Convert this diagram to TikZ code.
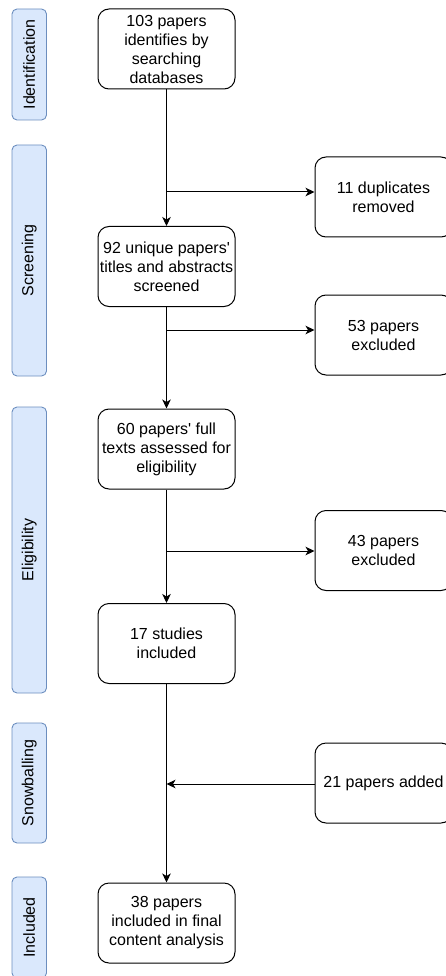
\documentclass[tikz,border=0pt]{standalone}
\usepackage{fontspec}
\setmainfont{Liberation Sans}
\usetikzlibrary{arrows.meta}
\definecolor{phasefill}{HTML}{DAE8FC}
\definecolor{phaseline}{HTML}{6C8EBF}
\tikzset{
  phase/.style={draw=phaseline, fill=phasefill, line width=0.9pt,
    rounded corners=5pt, rotate=90, minimum height=34.5pt, inner sep=0pt,
    font=\fontsize{16}{19}\selectfont},
  stepbox/.style={draw=black, line width=1pt, rounded corners=11pt,
    minimum width=137pt, minimum height=80pt, inner sep=0pt, align=center,
    font=\fontsize{16}{19}\selectfont},
  flow/.style={line width=1pt, draw=black},
  flowarrow/.style={flow, -{Stealth[length=9pt,width=8.5pt,inset=2.5pt]}}
}
\begin{document}
\begin{tikzpicture}[x=1pt, y=-1pt]
\useasboundingbox (0,0) rectangle (445,976);

% phase labels on the left
\node[phase, minimum width=111pt] (pid)  at (29.25,64.5)  {Identification};
\node[phase, minimum width=231pt] (pscr) at (29.25,260.5) {Screening};
\node[phase, minimum width=286pt] (pel)  at (29.25,550)   {Eligibility};
\node[phase, minimum width=120pt] (psn)  at (29.25,783)   {Snowballing};
\node[phase, minimum width=101pt] (pinc) at (29.25,927.5) {Included};

% main flow
\node[stepbox] (ident) at (166.5,49)    {103 papers\\identifies by\\searching\\databases};
\node[stepbox] (scr)   at (166.5,266.5) {92 unique papers\textquotesingle\\titles and abstracts\\screened};
\node[stepbox] (full)  at (166.5,449)   {60 papers\textquotesingle{} full\\texts assessed for\\eligibility};
\node[stepbox] (stud)  at (166.5,643.5) {17 studies\\included};
\node[stepbox] (final) at (166.5,923)    {38 papers\\included in final\\content analysis};

% side boxes
\node[stepbox] (dup)   at (383.5,197)   {11 duplicates\\removed};
\node[stepbox] (exc1)  at (383.5,335)   {53 papers\\excluded};
\node[stepbox] (exc2)  at (383.5,550.5) {43 papers\\excluded};
\node[stepbox] (added) at (383.5,783)   {21 papers added};

% branch points on the main line
\coordinate (b1) at (166.5,192);
\coordinate (b2) at (166.5,330);
\coordinate (b3) at (166.5,551);
\coordinate (b4) at (166.5,784);

% connectors
\draw[flowarrow] (ident.south) -- (scr.north);
\draw[flowarrow] (b1) -- (b1 -| dup.west);
\draw[flowarrow] (scr.south) -- (full.north);
\draw[flowarrow] (b2) -- (b2 -| exc1.west);
\draw[flowarrow] (full.south) -- (stud.north);
\draw[flowarrow] (b3) -- (b3 -| exc2.west);
\draw[flowarrow] (stud.south) -- (final.north);
\draw[flowarrow] (b4 -| added.west) -- (b4);
\end{tikzpicture}
\end{document}
